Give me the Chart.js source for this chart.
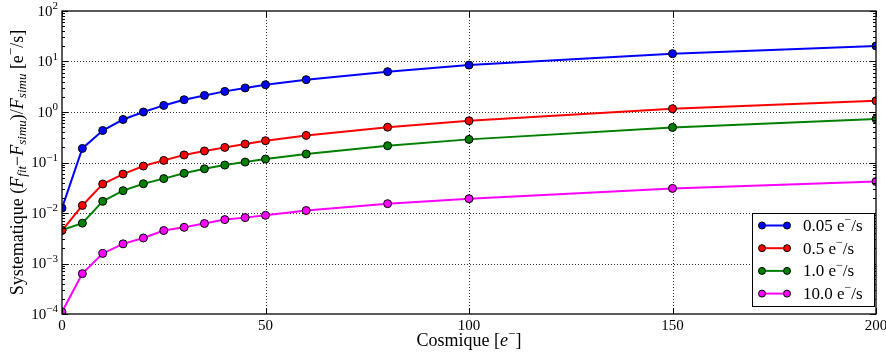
<!DOCTYPE html>
<html>
<head>
<meta charset="utf-8">
<script src="https://cdn.jsdelivr.net/npm/chart.js@4"></script>
<style>
  html, body { margin: 0; padding: 0; background: #fff; }
</style>
</head>
<body>
<canvas id="myChart" width="886" height="353"></canvas>
<script>
// x values (Cosmique [e-])
const cosmique = [0, 5, 10, 15, 20, 25, 30, 35, 40, 45, 50, 60, 80, 100, 150, 200];

// one series per flux
const seriesLabels = ['0.05 e⁻/s', '0.5 e⁻/s', '1.0 e⁻/s', '10.0 e⁻/s'];
const seriesColors = ['#0000ff', '#ff0000', '#008000', '#ff00ff'];
const flux005 = [0.0125, 0.19, 0.43, 0.71, 1.0, 1.35, 1.75, 2.13, 2.56, 2.99, 3.47, 4.37, 6.3, 8.5, 14.3, 20.3];
const flux05  = [0.0045, 0.0141, 0.0375, 0.059, 0.085, 0.11, 0.141, 0.169, 0.199, 0.232, 0.27, 0.344, 0.50, 0.67, 1.16, 1.67];
const flux1   = [0.0046, 0.0063, 0.017, 0.0277, 0.038, 0.048, 0.061, 0.075, 0.089, 0.102, 0.117, 0.147, 0.215, 0.287, 0.495, 0.73];
const flux10  = [0.00011, 0.00063, 0.00158, 0.00245, 0.0032, 0.0045, 0.0052, 0.0062, 0.0074, 0.0081, 0.0090, 0.0112, 0.0153, 0.0192, 0.0307, 0.042];

// axes
const xTicks = [0, 50, 100, 150, 200];
const yDecades = [-4, -3, -2, -1, 0, 1, 2];
// titles, split so italics / sub / superscripts can be drawn
const xTitle = [
  {t: 'Cosmique ['},
  {t: 'e', i: true},
  {t: '−', sup: true},
  {t: ']'}
];
const yTitle = [
  {t: 'Systematique ('},
  {t: 'F', i: true},
  {t: 'fit', i: true, sub: true},
  {t: '−'},
  {t: 'F', i: true},
  {t: 'simu', i: true, sub: true},
  {t: ')/'},
  {t: 'F', i: true},
  {t: 'simu', i: true, sub: true},
  {t: ' [e'},
  {t: '−', sup: true},
  {t: '/s]'}
];

const FONT = '"Liberation Serif", "Times New Roman", serif';
const isDecade = v => Math.abs(Math.log10(v) - Math.round(Math.log10(v))) < 1e-9;

function toPoints(vals) {
  return vals.map((v, i) => ({x: cosmique[i], y: v}));
}

const allSeries = [flux005, flux05, flux1, flux10];

// rich text helpers
function segFont(s, size) {
  const sz = (s.sub || s.sup) ? Math.round(size * 0.7) : size;
  return (s.i ? 'italic ' : '') + sz + 'px ' + FONT;
}
function richWidth(c, segs, size) {
  let w = 0;
  segs.forEach(s => { c.font = segFont(s, size); w += c.measureText(s.t).width; });
  return w;
}
function drawRich(c, segs, x, y, size, align) {
  const w = richWidth(c, segs, size);
  let cx = align === 'right' ? x - w : (align === 'center' ? x - w / 2 : x);
  c.textBaseline = 'middle';
  c.textAlign = 'left';
  segs.forEach(s => {
    c.font = segFont(s, size);
    const dy = s.sub ? size * 0.28 : (s.sup ? -size * 0.38 : 0);
    c.fillText(s.t, cx, y + dy);
    cx += c.measureText(s.t).width;
  });
}
function labelSegs(label) {
  const parts = label.split('⁻');
  return [{t: parts[0]}, {t: '−', sup: true}, {t: parts[1]}];
}

// dotted grid on major ticks
const gridPlugin = {
  id: 'dotgrid',
  beforeDatasetsDraw(chart) {
    const c = chart.ctx;
    const a = chart.chartArea;
    const xs = chart.scales.x, ys = chart.scales.y;
    c.save();
    c.strokeStyle = '#333';
    c.lineWidth = 1;
    c.setLineDash([1, 2]);
    c.beginPath();
    xs.ticks.forEach(t => {
      if (t.value <= xs.min || t.value >= xs.max) return;
      const px = Math.round(xs.getPixelForValue(t.value)) + 0.5;
      c.moveTo(px, a.top); c.lineTo(px, a.bottom);
    });
    ys.ticks.forEach(t => {
      if (!isDecade(t.value) || t.value <= ys.min || t.value >= ys.max) return;
      const py = Math.round(ys.getPixelForValue(t.value)) + 0.5;
      c.moveTo(a.left, py); c.lineTo(a.right, py);
    });
    c.stroke();
    c.restore();
  }
};

// frame, inner ticks, y tick labels, titles and legend box
const extrasPlugin = {
  id: 'extras',
  afterDraw(chart) {
    const c = chart.ctx;
    const a = chart.chartArea;
    const xs = chart.scales.x, ys = chart.scales.y;
    c.save();

    // inner tick marks
    c.strokeStyle = '#000';
    c.lineWidth = 1;
    c.beginPath();
    ys.ticks.forEach(t => {
      const py = Math.round(ys.getPixelForValue(t.value)) + 0.5;
      const len = isDecade(t.value) ? 6 : 3;
      c.moveTo(a.left, py); c.lineTo(a.left + len, py);
      c.moveTo(a.right, py); c.lineTo(a.right - len, py);
    });
    xs.ticks.forEach(t => {
      const px = Math.round(xs.getPixelForValue(t.value)) + 0.5;
      c.moveTo(px, a.bottom); c.lineTo(px, a.bottom - 6);
      c.moveTo(px, a.top); c.lineTo(px, a.top + 6);
    });
    c.stroke();

    // frame
    c.lineWidth = 1.3;
    c.strokeRect(a.left, a.top, a.right - a.left, a.bottom - a.top);

    // y tick labels 10^n
    c.fillStyle = '#000';
    ys.ticks.forEach(t => {
      if (!isDecade(t.value)) return;
      const e = Math.round(Math.log10(t.value));
      const segs = [{t: '10'}, {t: (e < 0 ? '−' : '') + Math.abs(e), sup: true}];
      drawRich(c, segs, a.left - 4, ys.getPixelForValue(t.value) + 1, 15, 'right');
    });

    // x title
    drawRich(c, xTitle, (a.left + a.right) / 2, 341, 18, 'center');

    // y title
    c.save();
    c.translate(18, (a.top + a.bottom) / 2);
    c.rotate(-Math.PI / 2);
    drawRich(c, yTitle, 0, 0, 18, 'center');
    c.restore();

    // legend box, lower right
    const bx1 = a.right - 124, bx2 = a.right - 2;
    const by1 = a.bottom - 101, by2 = a.bottom - 8;
    c.fillStyle = '#fff';
    c.fillRect(bx1, by1, bx2 - bx1, by2 - by1);
    c.strokeStyle = '#000';
    c.lineWidth = 1;
    c.strokeRect(bx1 + 0.5, by1 + 0.5, bx2 - bx1, by2 - by1);
    chart.data.datasets.forEach((ds, i) => {
      const yy = by1 + 12.5 + i * 22.7;
      c.strokeStyle = ds.borderColor;
      c.lineWidth = 2;
      c.beginPath();
      c.moveTo(bx1 + 10, yy); c.lineTo(bx1 + 35, yy);
      c.stroke();
      [bx1 + 10, bx1 + 35].forEach(mx => {
        c.beginPath();
        c.arc(mx, yy, 3.5, 0, Math.PI * 2);
        c.fillStyle = ds.pointBackgroundColor;
        c.fill();
        c.strokeStyle = '#000';
        c.lineWidth = 1;
        c.stroke();
      });
      c.fillStyle = '#000';
      drawRich(c, labelSegs(ds.label), bx1 + 51, yy + 1, 17, 'left');
    });
    c.restore();
  }
};

const ctx = document.getElementById('myChart');
new Chart(ctx, {
  type: 'line',
  data: {
    datasets: allSeries.map((vals, i) => ({
      label: seriesLabels[i],
      data: toPoints(vals),
      borderColor: seriesColors[i],
      backgroundColor: seriesColors[i],
      pointBackgroundColor: seriesColors[i],
      pointBorderColor: '#000',
      pointBorderWidth: 1,
      pointRadius: 4,
      borderWidth: 2,
      tension: 0,
      fill: false
    }))
  },
  options: {
    responsive: false,
    animation: false,
    devicePixelRatio: 1,
    layout: { padding: { top: 11, right: 10, left: 0, bottom: 0 } },
    plugins: {
      legend: { display: false },
      tooltip: { enabled: false }
    },
    scales: {
      x: {
        type: 'linear',
        min: 0,
        max: 200,
        afterBuildTicks: scale => { scale.ticks = xTicks.map(v => ({value: v})); },
        afterFit: scale => { scale.height = 39; scale.paddingLeft = 0; scale.paddingRight = 0; },
        ticks: {
          color: '#000',
          padding: 3,
          maxRotation: 0,
          autoSkip: false,
          font: { family: FONT, size: 15 }
        },
        grid: { display: false, drawTicks: false },
        border: { display: false }
      },
      y: {
        type: 'logarithmic',
        min: 1e-4,
        max: 100,
        afterBuildTicks: scale => {
          const t = [];
          yDecades.forEach(e => {
            for (let m = 1; m <= 9; m++) {
              if (e === 2 && m > 1) break;
              t.push({value: m * Math.pow(10, e)});
            }
          });
          scale.ticks = t;
        },
        afterFit: scale => { scale.width = 62; },
        ticks: { display: false },
        grid: { display: false, drawTicks: false },
        border: { display: false }
      }
    }
  },
  plugins: [gridPlugin, extrasPlugin]
});
</script>
</body>
</html>
